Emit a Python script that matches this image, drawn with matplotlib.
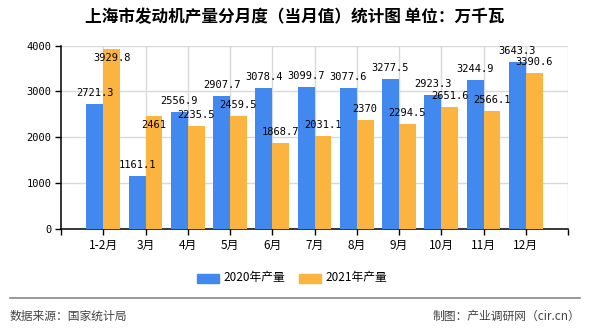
import matplotlib
matplotlib.use('Agg')
import matplotlib.pyplot as plt
import numpy as np
from matplotlib.patches import Rectangle
from matplotlib.lines import Line2D

plt.rcParams['font.family'] = ['Noto Sans CJK SC', 'DejaVu Sans']

# Data
months = ['1-2月', '3月', '4月', '5月', '6月', '7月', '8月', '9月', '10月', '11月', '12月']
prod_2020 = [2721.3, 1161.1, 2556.9, 2907.7, 3078.4, 3099.7, 3077.6, 3277.5, 2923.3, 3244.9, 3643.3]
prod_2021 = [3929.8, 2461, 2235.5, 2459.5, 1868.7, 2031.1, 2370, 2294.5, 2651.6, 2566.1, 3390.6]
series_names = ['2020年产量', '2021年产量']

blue = '#4189EE'
orange = '#FCB440'
grid_c = '#D9D9D9'

fig = plt.figure(figsize=(5.9, 3.3), dpi=100)
ax = fig.add_axes([61 / 590, 1 - 229 / 330, 507 / 590, 183.5 / 330])

x = np.arange(len(months))
w = 0.4
b1 = ax.bar(x - w / 2, prod_2020, w, color=blue, zorder=3)
b2 = ax.bar(x + w / 2, prod_2021, w, color=orange, zorder=3)

ax.set_xlim(-1, 11)
ax.set_ylim(0, 4000)

# grid
for yv in [1000, 2000, 3000, 4000]:
    ax.axhline(yv, color=grid_c, lw=1, zorder=1)
for xv in range(0, 12):
    ax.axvline(xv, color=grid_c, lw=1, zorder=1)

for s in ['top', 'right']:
    ax.spines[s].set_visible(False)
ax.spines['left'].set_linewidth(1.1)
ax.spines['bottom'].set_linewidth(1.1)

ax.set_yticks([0, 1000, 2000, 3000, 4000])
ax.set_yticklabels(['0', '1000', '2000', '3000', '4000'], family='DejaVu Sans Mono', fontsize=7.5)
ax.set_xticks(np.arange(-1, 12))
ax.set_xticklabels([''] + months + [''], fontsize=8.5)
ax.tick_params(axis='both', length=4, width=1, color='black', pad=3)

# value labels (two of the 2021 labels sit lower, as in the source)
shift = {(1, 0): -9, (1, 1): -9}
for k, (bars, vals) in enumerate([(b1, prod_2020), (b2, prod_2021)]):
    for i, (bar, v) in enumerate(zip(bars, vals)):
        dy = shift.get((k, i), 11)
        ax.annotate(f'{v:g}', (bar.get_x() + bar.get_width() / 2, v),
                    xytext=(0, dy), textcoords='offset pixels',
                    ha='center', va='center', fontsize=7.5,
                    family='DejaVu Sans Mono', zorder=5, annotation_clip=False)

# title
fig.text(0.5, 1 - 17 / 330, '上海市发动机产量分月度（当月值）统计图 单位：万千瓦',
         ha='center', va='center', fontsize=12, fontweight='bold')

# legend
ly = 1 - 278 / 330
for (x0, c, name) in [(197, blue, series_names[0]), (299, orange, series_names[1])]:
    fig.patches.append(Rectangle((x0 / 590, ly - 4.5 / 330), 22 / 590, 9 / 330,
                                 transform=fig.transFigure, color=c))
    fig.text((x0 + 26) / 590, ly, name, ha='left', va='center', fontsize=8.5)

# footer
fig.lines.append(Line2D([10 / 590, 580 / 590], [1 - 298 / 330] * 2,
                        transform=fig.transFigure, color='#888888', lw=1.2))
fig.text(10 / 590, 1 - 316 / 330, '数据来源：国家统计局', ha='left', va='center',
         fontsize=8.5, color='#444444')
fig.text(580 / 590, 1 - 316 / 330, '制图：产业调研网（cir.cn）', ha='right', va='center',
         fontsize=8.5, color='#444444')

fig.savefig('out.png', dpi=100)
